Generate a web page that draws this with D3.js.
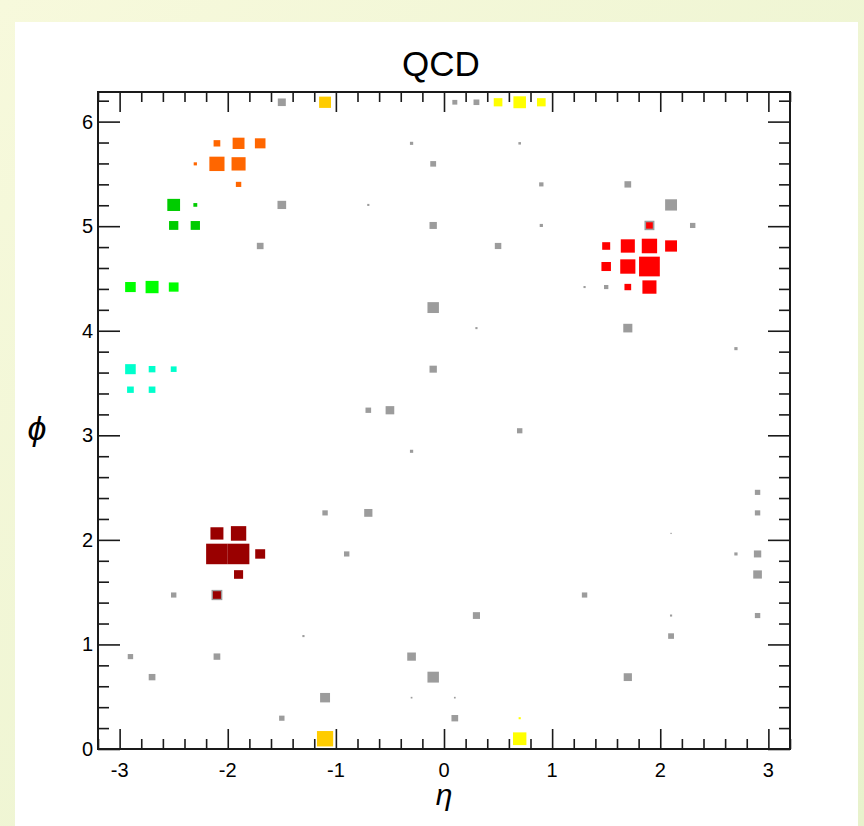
<!DOCTYPE html>
<html>
<head>
<meta charset="utf-8">
<script src="https://cdn.jsdelivr.net/npm/d3@7"></script>
<style>
  html, body { margin: 0; padding: 0; }
  body { width: 864px; height: 826px; overflow: hidden; }
  text { font-family: "Liberation Sans", Arial, Helvetica, sans-serif; }
</style>
</head>
<body>
<svg id="chart" width="864" height="826"></svg>
<script>
// ---------- DATA ----------
const title = "QCD";
const xTickLabels = [-3, -2, -1, 0, 1, 2, 3];
const yTickLabels = [0, 1, 2, 3, 4, 5, 6];
const etaRange = [-3.2, 3.2];
const phiRange = [0, 2 * Math.PI];
const nEtaBins = 32;
const nPhiBins = 32;
const maxContent = 100;

// cells: [eta, phi, content]
const otherCells = [
  [-1.5, 6.19, 37], [0.1, 6.19, 23], [0.3, 6.19, 27],
  [-1.5, 5.20, 40], [-1.7, 4.81, 31], [-0.3, 5.79, 15], [0.7, 5.79, 12],
  [-0.1, 5.60, 27], [0.9, 5.40, 20], [-0.7, 5.20, 10], [-0.1, 5.01, 34],
  [0.9, 5.01, 15], [0.5, 4.81, 30], [1.7, 5.40, 31], [2.1, 5.20, 55],
  [1.9, 5.01, 46], [2.3, 5.01, 25], [1.3, 4.42, 10], [1.5, 4.42, 20],
  [1.7, 4.03, 42], [2.7, 3.83, 15], [-0.1, 4.22, 53], [0.3, 4.03, 10],
  [-0.1, 3.63, 34], [-0.7, 3.24, 26], [-0.5, 3.24, 40], [0.7, 3.04, 25],
  [-0.3, 2.85, 15], [-0.7, 2.26, 38], [-1.1, 2.26, 25], [-0.9, 1.87, 25],
  [2.9, 2.45, 25], [2.9, 2.26, 25], [2.1, 2.06, 6], [2.7, 1.87, 15],
  [2.9, 1.87, 34], [2.9, 1.67, 40], [-2.5, 1.47, 25], [-2.1, 1.47, 50],
  [-1.3, 1.08, 10], [-2.9, 0.88, 25], [-2.1, 0.88, 31], [-2.7, 0.69, 31],
  [-1.1, 0.49, 46], [-1.5, 0.29, 25], [0.3, 1.28, 33], [-0.3, 0.88, 40],
  [-0.1, 0.69, 53], [-0.3, 0.49, 8], [0.1, 0.49, 8], [0.1, 0.29, 31],
  [1.3, 1.47, 25], [2.1, 1.28, 10], [2.9, 1.28, 25], [2.1, 1.08, 27],
  [1.7, 0.69, 38]
];
const jetGold = [[-1.1, 6.19, 55], [-1.1, 0.10, 75]];
const jetYellow = [[0.5, 6.19, 40], [0.7, 6.19, 58], [0.9, 6.19, 40], [0.7, 0.29, 10], [0.7, 0.10, 62]];
const jetOrange = [[-2.1, 5.79, 31], [-1.9, 5.79, 55], [-1.7, 5.79, 49], [-2.3, 5.60, 15],
                   [-2.1, 5.60, 70], [-1.9, 5.60, 65], [-1.9, 5.40, 25]];
const jetDarkGreen = [[-2.5, 5.20, 59], [-2.3, 5.20, 18], [-2.5, 5.01, 43], [-2.3, 5.01, 43]];
const jetGreen = [[-2.9, 4.42, 49], [-2.7, 4.42, 60], [-2.5, 4.42, 45]];
const jetCyan = [[-2.9, 3.63, 49], [-2.7, 3.63, 31], [-2.5, 3.63, 27], [-2.9, 3.44, 31], [-2.7, 3.44, 31]];
const jetRed = [[1.9, 5.01, 31], [1.5, 4.81, 37], [1.7, 4.81, 65], [1.9, 4.81, 71], [2.1, 4.81, 55],
                [1.5, 4.61, 44], [1.7, 4.61, 70], [1.9, 4.61, 96], [1.7, 4.42, 31], [1.9, 4.42, 65]];
const jetDarkRed = [[-2.1, 2.06, 60], [-1.9, 2.06, 71], [-2.1, 1.87, 100], [-1.9, 1.87, 100],
                    [-1.7, 1.87, 46], [-1.9, 1.67, 42], [-2.1, 1.47, 37]];

const layers = [
  { cells: otherCells, color: "#9c9c9c" },
  { cells: jetGold, color: "#ffcc00" },
  { cells: jetYellow, color: "#ffff00" },
  { cells: jetOrange, color: "#ff6600" },
  { cells: jetDarkGreen, color: "#00cc00" },
  { cells: jetGreen, color: "#00ff00" },
  { cells: jetCyan, color: "#00ffcc" },
  { cells: jetRed, color: "#ff0000" },
  { cells: jetDarkRed, color: "#990000" }
];

// ---------- LAYOUT ----------
const W = 864, H = 826;
const frame = { left: 98, right: 790, top: 92, bottom: 749 };

const svg = d3.select("#chart");

// background (canvas + pad)
const defs = svg.append("defs");
const grad = defs.append("linearGradient").attr("id", "bg").attr("x1", 0).attr("y1", 0).attr("x2", 1).attr("y2", 1);
grad.append("stop").attr("offset", "0%").attr("stop-color", "#f7f9dc");
grad.append("stop").attr("offset", "100%").attr("stop-color", "#e8f2cc");
svg.append("rect").attr("width", W).attr("height", H).attr("fill", "url(#bg)");
svg.append("rect").attr("x", 15).attr("y", 22).attr("width", 843).attr("height", H - 22).attr("fill", "#ffffff");

const x = d3.scaleLinear().domain(etaRange).range([frame.left, frame.right]);
const y = d3.scaleLinear().domain(phiRange).range([frame.bottom, frame.top]);

const binW = (etaRange[1] - etaRange[0]) / nEtaBins;
const binH = (phiRange[1] - phiRange[0]) / nPhiBins;
const binPxW = x(etaRange[0] + binW) - x(etaRange[0]);
const binPxH = y(phiRange[0]) - y(phiRange[0] + binH);
const size = d3.scaleLinear().domain([0, maxContent]).range([0, 1]);

const plot = svg.append("g");
layers.forEach(layer => {
  plot.append("g").selectAll("rect")
    .data(layer.cells)
    .join("rect")
    .each(function (d) {
      const i = Math.floor((d[0] - etaRange[0]) / binW + 1e-9);
      const j = Math.floor((d[1] - phiRange[0]) / binH + 1e-9);
      const cx = x(etaRange[0] + (i + 0.5) * binW);
      const cy = y(phiRange[0] + (j + 0.5) * binH);
      const f = size(d[2]);
      const w = f * binPxW, h = f * binPxH;
      d3.select(this)
        .attr("x", cx - w / 2).attr("y", cy - h / 2)
        .attr("width", w).attr("height", h)
        .attr("fill", layer.color);
    });
});

// ---------- AXES ----------
const axisColor = "#1a1a1a";
const xMinor = d3.range(-16, 17).map(k => k * 0.2).filter(v => Math.abs(v - Math.round(v)) > 1e-6);
const yMinor = d3.range(1, 32).map(k => k * 0.2).filter(v => Math.abs(v - Math.round(v)) > 1e-6 && v < 2 * Math.PI);

function styleAxis(g) {
  g.select(".domain").remove();
  g.selectAll("line").attr("stroke", axisColor).attr("stroke-width", 1.6);
  g.selectAll("text").remove();
}

svg.append("g").attr("transform", `translate(0,${frame.bottom})`)
  .call(d3.axisBottom(x).tickValues(xTickLabels).tickSize(-20)).call(styleAxis);
svg.append("g").attr("transform", `translate(0,${frame.bottom})`)
  .call(d3.axisBottom(x).tickValues(xMinor).tickSize(-10)).call(styleAxis);
svg.append("g").attr("transform", `translate(0,${frame.top})`)
  .call(d3.axisTop(x).tickValues(xTickLabels).tickSize(-20)).call(styleAxis);
svg.append("g").attr("transform", `translate(0,${frame.top})`)
  .call(d3.axisTop(x).tickValues(xMinor).tickSize(-10)).call(styleAxis);

svg.append("g").attr("transform", `translate(${frame.left},0)`)
  .call(d3.axisLeft(y).tickValues(yTickLabels).tickSize(-22)).call(styleAxis);
svg.append("g").attr("transform", `translate(${frame.left},0)`)
  .call(d3.axisLeft(y).tickValues(yMinor).tickSize(-11)).call(styleAxis);
svg.append("g").attr("transform", `translate(${frame.right},0)`)
  .call(d3.axisRight(y).tickValues(yTickLabels).tickSize(-22)).call(styleAxis);
svg.append("g").attr("transform", `translate(${frame.right},0)`)
  .call(d3.axisRight(y).tickValues(yMinor).tickSize(-11)).call(styleAxis);

// frame
svg.append("rect")
  .attr("x", frame.left).attr("y", frame.top)
  .attr("width", frame.right - frame.left).attr("height", frame.bottom - frame.top)
  .attr("fill", "none").attr("stroke", axisColor).attr("stroke-width", 2);

// tick labels
svg.append("g").selectAll("text").data(xTickLabels).join("text")
  .attr("x", d => x(d)).attr("y", 777)
  .attr("text-anchor", "middle").attr("font-size", 20).attr("fill", "#000")
  .text(d => d);
svg.append("g").selectAll("text").data(yTickLabels).join("text")
  .attr("x", 93).attr("y", d => y(d) + 7)
  .attr("text-anchor", "end").attr("font-size", 20).attr("fill", "#000")
  .text(d => d);

// title and axis titles
svg.append("text").attr("x", 441).attr("y", 76).attr("text-anchor", "middle")
  .attr("font-size", 35).attr("fill", "#000").text(title);
svg.append("text").attr("x", 444).attr("y", 805).attr("text-anchor", "middle")
  .attr("font-size", 30).attr("font-style", "italic").attr("fill", "#000")
  .attr("font-family", "'Liberation Serif', 'DejaVu Serif', serif").text("η");
svg.append("text").attr("x", 37).attr("y", 440).attr("text-anchor", "middle")
  .attr("font-size", 34).attr("font-style", "italic").attr("fill", "#000")
  .attr("font-family", "'Liberation Serif', 'DejaVu Serif', serif").text("ϕ");
</script>
</body>
</html>
